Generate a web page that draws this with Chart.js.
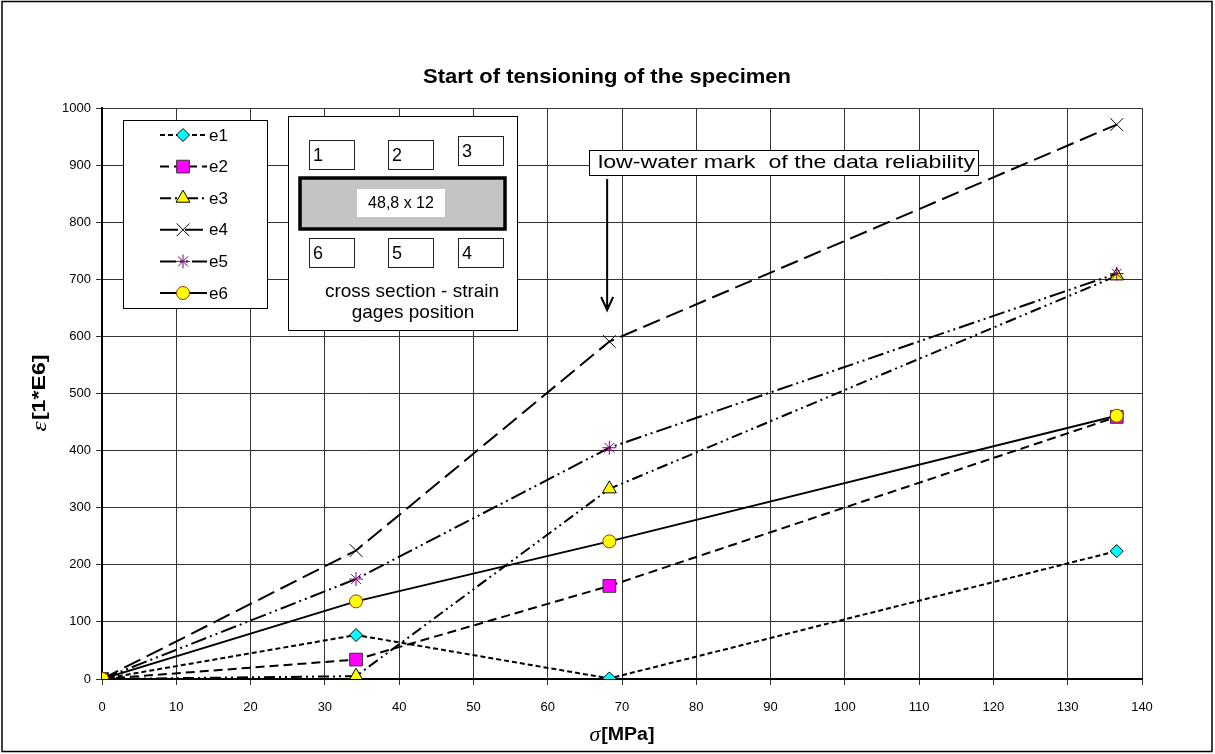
<!DOCTYPE html>
<html lang="en">
<head>
<meta charset="UTF-8">
<title>Start of tensioning of the specimen</title>
<script src="https://cdn.jsdelivr.net/npm/chart.js"></script>
<style>
    html, body { margin: 0; padding: 0; background: #fff; }
    canvas { display: block; }
</style>
</head>
<body>
<canvas id="strainChart" width="1215" height="754"></canvas>
<script>
// stress levels [MPa]
const stress = [0, 34.2, 68.3, 136.6];

// strain readings [1*E6] of the six gages
const e1 = [0, 77, 1, 224];
const e2 = [0, 34, 163, 459];
const e3 = [0, 5, 333, 706];
const e4 = [0, 225, 591, 971];
const e5 = [0, 175, 405, 710];
const e6 = [0, 136, 241, 461];

const gageNames = ['e1', 'e2', 'e3', 'e4', 'e5', 'e6'];
const gageValues = [e1, e2, e3, e4, e5, e6];

// stress level from which data are considered reliable
const reliabilityMark = 68;

const chartTitle = 'Start of tensioning of the specimen';

// look of every series
const looks = [
    { dash: [5, 3],                 style: 'rectRot',  r: 6.5, fill: '#00ffff', line: '#000' },
    { dash: [9, 5],                 style: 'rect',     r: 9,   fill: '#ff00ff', line: '#333' },
    { dash: [11, 4, 2, 4, 2, 4],    style: 'triangle', r: 8,   fill: '#ffff00', line: '#000' },
    { dash: [18, 7],                style: 'crossRot', r: 9,   fill: '#000',    line: '#000' },
    { dash: [16, 4, 2, 4, 2, 4],    style: 'star',     r: 7,   fill: '#800080', line: '#800080' },
    { dash: [],                     style: 'circle',   r: 6.5, fill: '#ffff00', line: '#993300' }
];

const datasets = gageNames.map((name, i) => ({
    label: name,
    data: stress.map((s, k) => ({ x: s, y: gageValues[i][k] })),
    showLine: true,
    borderColor: '#000',
    borderWidth: 2,
    borderDash: looks[i].dash,
    pointStyle: looks[i].style,
    pointRadius: looks[i].r,
    pointHoverRadius: looks[i].r,
    pointBackgroundColor: looks[i].fill,
    pointBorderColor: looks[i].line,
    pointBorderWidth: 1,
    order: gageNames.length - i
}));

const SANS = '"Liberation Sans", Arial, sans-serif';

function drawMarker(ctx, ds, x, y) {
    ctx.save();
    ctx.setLineDash([]);
    ctx.fillStyle = ds.pointBackgroundColor;
    ctx.strokeStyle = ds.pointBorderColor;
    ctx.lineWidth = ds.pointBorderWidth;
    if (Chart.helpers && Chart.helpers.drawPoint) {
        Chart.helpers.drawPoint(ctx, {
            pointStyle: ds.pointStyle,
            radius: ds.pointRadius,
            borderWidth: ds.pointBorderWidth,
            rotation: 0
        }, x, y);
    }
    ctx.restore();
}

// text stretched to a given width, like the Excel original
function fitText(ctx, text, x, y, width) {
    const w = ctx.measureText(text).width;
    ctx.save();
    ctx.translate(x, y);
    ctx.scale(width / w, 1);
    ctx.fillText(text, 0, 0);
    ctx.restore();
}

// greek symbol (italic) followed by bold unit, centred on 0,0
function axisTitle(ctx, sym, rest, width) {
    ctx.font = 'italic 20px "Liberation Serif", serif';
    const w1 = ctx.measureText(sym).width;
    ctx.font = 'bold 18px ' + SANS;
    const w2 = ctx.measureText(rest).width;
    const k = width / (w1 + w2 + 1);
    ctx.save();
    ctx.scale(k, 1);
    const x0 = -(w1 + w2 + 1) / 2;
    ctx.font = 'italic 20px "Liberation Serif", serif';
    ctx.fillText(sym, x0, 1);
    ctx.font = 'bold 18px ' + SANS;
    ctx.fillText(rest, x0 + w1 + 1, 0);
    ctx.restore();
}

const decor = {
    id: 'decor',
    afterDraw(chart) {
        const ctx = chart.ctx;
        const area = chart.chartArea;
        ctx.save();

        // outer frame
        ctx.strokeStyle = '#000';
        ctx.lineWidth = 1.5;
        ctx.strokeRect(2, 1.5, 1210, 750);

        ctx.fillStyle = '#000';
        ctx.textBaseline = 'middle';
        ctx.textAlign = 'left';

        // chart title
        ctx.font = 'bold 21px ' + SANS;
        fitText(ctx, chartTitle, 423, 77, 368);

        // axis titles
        ctx.save();
        ctx.translate((area.left + area.right) / 2, 735);
        axisTitle(ctx, '\u03c3', '[MPa]', 65);
        ctx.restore();
        ctx.save();
        ctx.translate(40, 393);
        ctx.rotate(-Math.PI / 2);
        axisTitle(ctx, '\u03b5', '[1*E6]', 77);
        ctx.restore();

        // legend
        ctx.fillStyle = '#fff';
        ctx.fillRect(123, 120, 144, 188);
        ctx.strokeStyle = '#000';
        ctx.lineWidth = 1;
        ctx.strokeRect(123.5, 120.5, 144, 188);
        chart.data.datasets.forEach((ds, i) => {
            const y = 135 + i * 31.6;
            ctx.save();
            ctx.strokeStyle = ds.borderColor;
            ctx.lineWidth = 2;
            ctx.setLineDash(ds.borderDash);
            ctx.beginPath();
            ctx.moveTo(160, y);
            ctx.lineTo(207, y);
            ctx.stroke();
            ctx.restore();
            drawMarker(ctx, ds, 183, y);
            ctx.fillStyle = '#000';
            ctx.font = '17px ' + SANS;
            ctx.textAlign = 'left';
            ctx.fillText(ds.label, 209, y + 1);
        });

        // cross section sketch
        ctx.fillStyle = '#fff';
        ctx.fillRect(288, 116, 229, 214);
        ctx.strokeStyle = '#000';
        ctx.lineWidth = 1;
        ctx.strokeRect(288.5, 116.5, 229, 214);
        const gageBoxes = [
            ['1', 309, 140], ['2', 388, 140], ['3', 458, 136],
            ['6', 309, 238], ['5', 388, 238], ['4', 458, 238]
        ];
        ctx.font = '18px ' + SANS;
        gageBoxes.forEach(([n, x, y]) => {
            ctx.fillStyle = '#fff';
            ctx.fillRect(x, y, 45, 29);
            ctx.strokeStyle = '#222';
            ctx.lineWidth = 1;
            ctx.strokeRect(x + 0.5, y + 0.5, 45, 29);
            ctx.fillStyle = '#000';
            ctx.fillText(n, x + 4, y + 16);
        });
        ctx.fillStyle = '#c4c4c4';
        ctx.fillRect(300, 178, 205, 51);
        ctx.strokeStyle = '#000';
        ctx.lineWidth = 3.5;
        ctx.strokeRect(300, 178, 205, 51);
        ctx.fillStyle = '#fff';
        ctx.fillRect(357, 189, 88, 28);
        ctx.fillStyle = '#000';
        ctx.font = '16px ' + SANS;
        ctx.textAlign = 'center';
        ctx.fillText('48,8 x 12', 401, 204);
        ctx.font = '19px ' + SANS;
        ctx.fillText('cross section - strain', 412, 292);
        ctx.fillText('gages position', 413, 313);

        // reliability note and arrow
        ctx.fillStyle = '#fff';
        ctx.fillRect(589, 150, 389, 25);
        ctx.strokeStyle = '#000';
        ctx.lineWidth = 1;
        ctx.strokeRect(589.5, 150.5, 389, 25);
        ctx.fillStyle = '#000';
        ctx.textAlign = 'left';
        ctx.font = '19px ' + SANS;
        fitText(ctx, 'low-water mark  of the data reliability', 598, 163, 377);

        const ax = chart.scales.x.getPixelForValue(reliabilityMark);
        ctx.strokeStyle = '#000';
        ctx.lineWidth = 2;
        ctx.beginPath();
        ctx.moveTo(ax, 179);
        ctx.lineTo(ax, 310);
        ctx.moveTo(ax - 6, 297);
        ctx.lineTo(ax, 310);
        ctx.lineTo(ax + 6, 297);
        ctx.stroke();

        ctx.restore();
    }
};

const tickFont = { family: SANS, size: 13 };

new Chart(document.getElementById('strainChart'), {
    type: 'scatter',
    data: { datasets },
    options: {
        responsive: false,
        animation: false,
        events: [],
        layout: { padding: { left: 0, right: 73, top: 108, bottom: 0 } },
        plugins: {
            legend: { display: false },
            tooltip: { enabled: false },
            title: { display: false }
        },
        scales: {
            x: {
                type: 'linear',
                min: 0,
                max: 140,
                ticks: { stepSize: 10, color: '#000', font: tickFont, padding: 15, maxRotation: 0 },
                grid: { color: '#333', lineWidth: 1, tickLength: 6 },
                border: { color: '#000', width: 2 },
                afterFit(scale) { scale.height = 75; }
            },
            y: {
                type: 'linear',
                min: 0,
                max: 1000,
                ticks: {
                    stepSize: 100,
                    color: '#000',
                    font: tickFont,
                    padding: 5,
                    callback: v => String(v)
                },
                grid: { color: '#333', lineWidth: 1, tickLength: 6 },
                border: { color: '#000', width: 2 },
                afterFit(scale) { scale.width = 102; }
            }
        }
    },
    plugins: [decor]
});
</script>
</body>
</html>
